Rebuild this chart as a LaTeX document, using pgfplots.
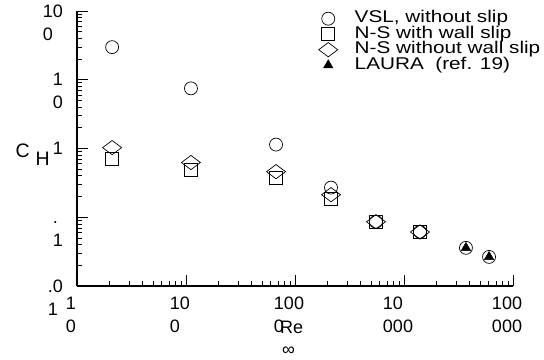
\documentclass[border=0pt]{standalone}
\usepackage{fontspec}
\setmainfont{Liberation Sans}
\usepackage{graphicx}
\usepackage{pgfplots}
\pgfplotsset{compat=1.18}
\begin{document}
\begin{tikzpicture}
\begin{axis}[
  name=ax,
  scale only axis, width=436bp, height=275bp,
  xmode=log, ymode=log,
  xmin=10, xmax=100000, ymin=0.01, ymax=100,
  axis lines=left,
  axis line style={-, line width=1.2bp},
  tick style={black, line width=0.8bp},
  tick align=inside,
  major tick length=11bp, minor tick length=5bp,
  xtick={10,100,1000,10000,100000},
  xticklabels={{1\\0},{10\\0},{100\\0},{10\\000},{100\\000}},
  ytick={0.01,0.1,1,10,100},
  yticklabels={{.0\\1},{\vphantom{0}.\\1},{1},{1\\0},{10\\0}},
  tick label style={font=\fontsize{18bp}{23bp}\selectfont},
  xticklabel style={align=left, anchor=north, inner sep=0pt, xshift=-6bp, yshift=-11bp},
  yticklabel style={align=left, anchor=north east, inner sep=0pt, xshift=-14bp, yshift=6.5bp},
  legend cell align=left,
  legend style={at={(axis description cs:0.554,1.0)}, anchor=north west, draw=none, fill=none,
    inner sep=0pt, font=\fontsize{17bp}{15bp}\selectfont, row sep=0.5bp,
    nodes={inner sep=0pt, text height=11.5bp, text depth=3.5bp},
    /tikz/every odd column/.append style={column sep=17bp}},
  clip=false,
]
\addplot[only marks, mark=o, mark size=6.5bp, mark options={black, line width=0.7bp}]
  coordinates {(21,29.8) (111,7.5) (670,1.14) (2140,0.27) (5530,0.086) (14000,0.0614) (37000,0.0359) (60300,0.0265)};
\addlegendentry{\scalebox{1.22}[1]{VSL, without slip}}
\addplot[only marks, mark=square, mark size=6.5bp, mark options={black, line width=0.7bp}]
  coordinates {(21,0.714) (111,0.49) (670,0.377) (2140,0.186) (5530,0.086) (14000,0.061)};
\addlegendentry{\scalebox{1.22}[1]{N-S with wall slip}}
\addplot[only marks, mark=diamond, mark size=9.5bp, mark options={black, rotate=90, line width=0.7bp}]
  coordinates {(21,1.03) (111,0.625) (670,0.46) (2140,0.213) (5530,0.086) (14000,0.061)};
\addlegendentry{\scalebox{1.22}[1]{N-S without wall slip}}
\addplot[only marks, mark=triangle*, mark size=5.5bp, mark options={black, fill=black}]
  coordinates {(37000,0.0359) (60300,0.0265)};
\addlegendentry{\scalebox{1.22}[1]{LAURA\ \ (ref. 19)}}
\node[anchor=base west, font=\fontsize{19.5bp}{23bp}\selectfont] at (axis description cs:-0.149,0.469) {C\hspace{6bp}\raisebox{-8bp}{H}};
\node[anchor=base, font=\fontsize{18bp}{23bp}\selectfont] at (axis description cs:0.492,-0.171) {Re};
\node[anchor=base, font=\fontsize{18bp}{23bp}\selectfont] at (axis description cs:0.485,-0.252) {∞};
\end{axis}
\pgfresetboundingbox
\path (ax.south west) ++(-77bp,-74bp) rectangle ++(544bp,360bp);
\end{tikzpicture}
\end{document}
